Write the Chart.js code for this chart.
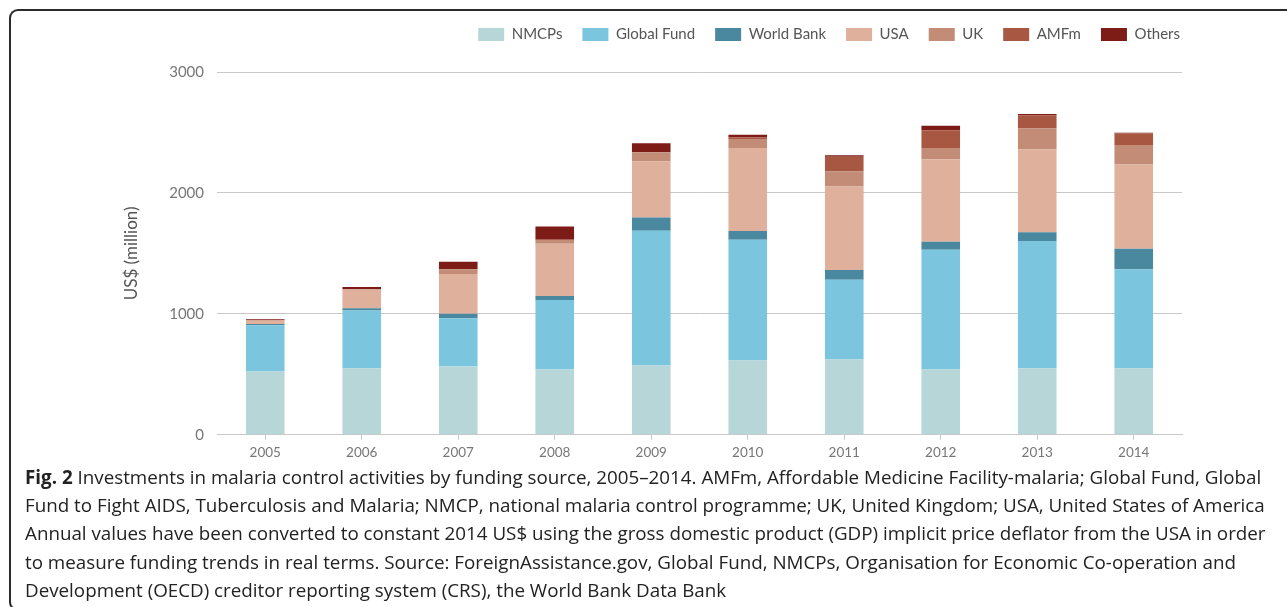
<!DOCTYPE html>
<html>
<head>
<meta charset="utf-8">
<script src="https://cdn.jsdelivr.net/npm/chart.js@4/dist/chart.umd.min.js"></script>
<style>
    html, body { margin: 0; padding: 0; background: #fff; }
    body { width: 1287px; height: 607px; position: relative; overflow: hidden; }
    #frame {
        position: absolute; left: 9px; top: 9px; width: 1300px; height: 598px;
        border: 2px solid #2b2b2b; border-right: none;
        border-radius: 9px 0 0 9px;
    }
    #chart-wrap { position: absolute; left: 0; top: 0; width: 1287px; height: 466px; }
    #caption {
        position: absolute; left: 25px; top: 463px;
        font-family: "Open Sans", sans-serif; font-size: 18.8px; line-height: 28.2px;
        color: #222; white-space: nowrap;
    }
    #caption b { font-weight: 700; }
</style>
</head>
<body>
<div id="frame"></div>
<div id="chart-wrap"><canvas id="chart"></canvas></div>
<div id="caption">
<b>Fig. 2</b> Investments in malaria control activities by funding source, 2005–2014. AMFm, Affordable Medicine Facility-malaria; Global Fund, Global<br>
Fund to Fight AIDS, Tuberculosis and Malaria; NMCP, national malaria control programme; UK, United Kingdom; USA, United States of America<br>
Annual values have been converted to constant 2014 US$ using the gross domestic product (GDP) implicit price deflator from the USA in order<br>
to measure funding trends in real terms. Source: ForeignAssistance.gov, Global Fund, NMCPs, Organisation for Economic Co-operation and<br>
Development (OECD) creditor reporting system (CRS), the World Bank Data Bank
</div>
<script>
// values in US$ million
const years = ['2005', '2006', '2007', '2008', '2009', '2010', '2011', '2012', '2013', '2014']

const nmcps      = [524, 551, 565, 540, 574, 615, 623, 540, 551, 551]
const globalFund = [382, 477, 399, 574, 1113, 998, 660, 990, 1051, 818]
const worldBank  = [10, 19, 36, 33, 109, 72, 80, 66, 72, 169]
const usa        = [28, 153, 330, 432, 465, 687, 690, 682, 687, 698]
const uk         = [5, 4, 39, 34, 75, 75, 125, 94, 172, 161]
const amfm       = [0, 0, 0, 0, 0, 14, 122, 147, 110, 94]
const others     = [6, 18, 61, 110, 75, 21, 11, 36, 9, 6]

const yTicks = [0, 1000, 2000, 3000]

const series = [
    { label: 'NMCPs', data: nmcps, color: '#b7d6d8' },
    { label: 'Global Fund', data: globalFund, color: '#7bc6de' },
    { label: 'World Bank', data: worldBank, color: '#4a88a0' },
    { label: 'USA', data: usa, color: '#dfb09c' },
    { label: 'UK', data: uk, color: '#c28c76' },
    { label: 'AMFm', data: amfm, color: '#a85742' },
    { label: 'Others', data: others, color: '#7d1b16' }
]

function buildDatasets() {
    return series.map((s) => {
        return {
            label: s.label,
            data: s.data,
            backgroundColor: s.color,
            borderWidth: 0,
            categoryPercentage: 1.0,
            barPercentage: 0.4
        }
    })
}

// leave a gap under the legend and push it flush with the plot's right edge
const legendSpacer = {
    id: 'legendSpacer',
    afterInit(chart) {
        const legend = chart.legend
        const fit = legend.fit
        legend.fit = function () {
            fit.call(legend)
            legend.height += 20
        }
    },
    afterLayout(chart) {
        chart.legend.left += 18
        chart.legend.right += 18
    }
}

function renderChart() {
    const gridColor = '#c8c8c8'

    new Chart(document.getElementById('chart'), {
        type: 'bar',
        data: {
            labels: years,
            datasets: buildDatasets()
        },
        plugins: [legendSpacer],
        options: {
            responsive: true,
            maintainAspectRatio: false,
            animation: false,
            layout: {
                padding: { left: 119, right: 105, top: 7, bottom: 0 }
            },
            plugins: {
                tooltip: { enabled: false },
                legend: {
                    position: 'top',
                    align: 'end',
                    labels: {
                        boxWidth: 26,
                        boxHeight: 13,
                        padding: 20,
                        color: '#555',
                        font: { family: 'Lato', size: 15 }
                    }
                }
            },
            scales: {
                x: {
                    stacked: true,
                    grid: {
                        offset: false,
                        drawOnChartArea: false,
                        drawTicks: true,
                        tickLength: 5,
                        color: gridColor
                    },
                    border: { display: true, color: gridColor },
                    ticks: {
                        color: '#777',
                        padding: 5,
                        font: { family: 'Lato', size: 13.5 }
                    }
                },
                y: {
                    stacked: true,
                    min: 0,
                    max: 3000,
                    afterBuildTicks: (scale) => {
                        scale.ticks = yTicks.map((v) => ({ value: v }))
                    },
                    afterFit: (scale) => {
                        scale.width = 98
                    },
                    grid: {
                        drawTicks: false,
                        color: gridColor
                    },
                    border: { display: false },
                    ticks: {
                        color: '#777',
                        padding: 13,
                        font: { family: 'Lato', size: 15 },
                        callback: (v) => String(v)
                    },
                    title: {
                        display: true,
                        text: 'US$ (million)',
                        color: '#555',
                        padding: { top: 2, bottom: 4 },
                        font: { family: 'Lato', size: 17 }
                    }
                }
            }
        }
    })
}

renderChart()
</script>
</body>
</html>
